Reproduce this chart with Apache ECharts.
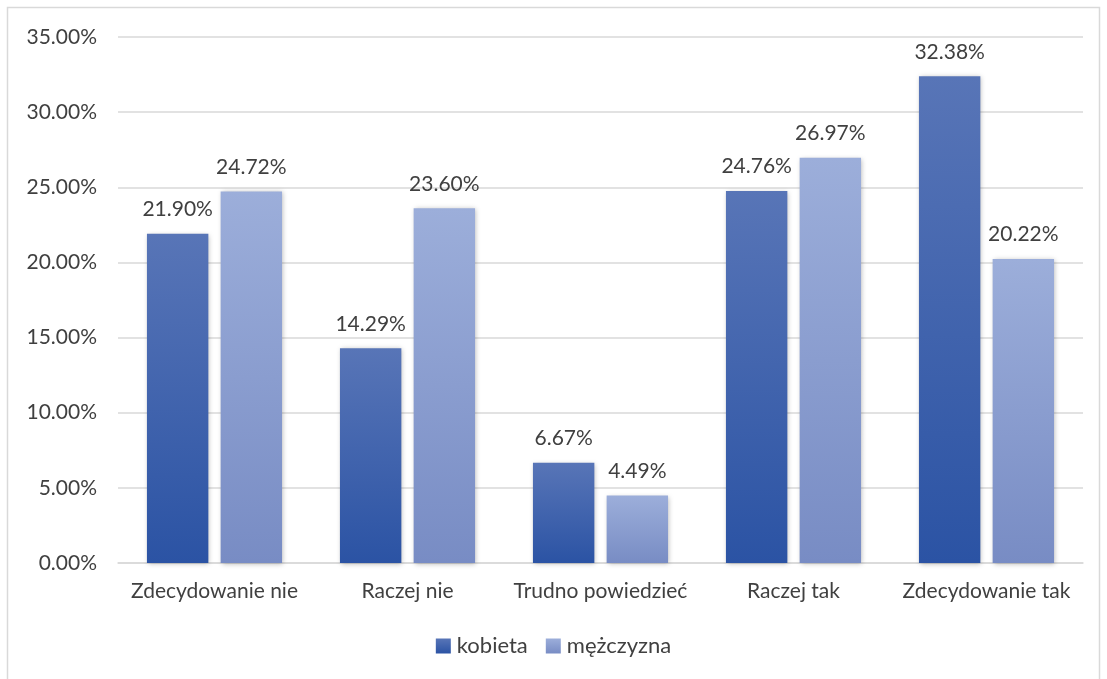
<!DOCTYPE html>
<html>
<head>
<meta charset="utf-8">
<script src="https://cdn.jsdelivr.net/npm/echarts@6/dist/echarts.min.js"></script>
<style>
  html, body { margin: 0; padding: 0; background: #fff; }
  #chart { width: 1107px; height: 679px; }
</style>
</head>
<body>
<div id="chart"></div>
<script>
// Survey answers by gender (share of respondents, %)
const categories = ['Zdecydowanie nie', 'Raczej nie', 'Trudno powiedzieć', 'Raczej tak', 'Zdecydowanie tak'];
const kobieta = [21.90, 14.29, 6.67, 24.76, 32.38];
const mezczyzna = [24.72, 23.60, 4.49, 26.97, 20.22];
const seriesNames = ['kobieta', 'mężczyzna'];

const FONT = 'Lato, "Open Sans", sans-serif';
const TEXT = '#404040';
const FS = 21;

const grad = (top, bottom) => new echarts.graphic.LinearGradient(0, 0, 0, 1, [
  { offset: 0, color: top },
  { offset: 1, color: bottom }
]);

const barShadow = {
  shadowBlur: 5,
  shadowColor: 'rgba(0,0,0,0.28)',
  shadowOffsetX: 1,
  shadowOffsetY: 1
};

const labelStyle = {
  show: true,
  position: 'top',
  distance: 14,
  color: TEXT,
  fontFamily: FONT,
  fontSize: FS,
  formatter: p => p.value.toFixed(2) + '%'
};

const chart = echarts.init(document.getElementById('chart'), null, { renderer: 'canvas' });
chart.setOption({
  animation: false,
  backgroundColor: '#fff',
  graphic: [{
    type: 'rect',
    shape: { x: 7.5, y: 7.5, width: 1092, height: 690 },
    style: { fill: 'none', stroke: '#d9d9d9', lineWidth: 1.5 },
    silent: true
  }],
  grid: { left: 118, right: 24, top: 37, bottom: 116, containLabel: false },
  legend: {
    data: seriesNames,
    bottom: 17,
    left: 'center',
    itemWidth: 15,
    itemHeight: 15,
    itemGap: 18,
    icon: 'rect',
    textStyle: { color: TEXT, fontFamily: FONT, fontSize: 22, padding: [0, 0, 0, 1] }
  },
  xAxis: {
    type: 'category',
    data: categories,
    axisLine: { lineStyle: { color: '#d9d9d9', width: 1.5 } },
    axisTick: { show: false },
    axisLabel: { interval: 0, color: TEXT, fontFamily: FONT, fontSize: FS, margin: 18 }
  },
  yAxis: {
    type: 'value',
    min: 0,
    max: 35,
    interval: 5,
    axisLine: { show: false },
    axisTick: { show: false },
    splitLine: { lineStyle: { color: '#d9d9d9', width: 1.5 } },
    axisLabel: {
      color: TEXT, fontFamily: FONT, fontSize: FS, margin: 21,
      formatter: v => v.toFixed(2) + '%'
    }
  },
  series: [
    {
      name: seriesNames[0],
      type: 'bar',
      data: kobieta,
      barGap: '20%',
      barCategoryGap: '30%',
      itemStyle: Object.assign({ color: grad('#5875b7', '#2b53a4') }, barShadow),
      label: labelStyle
    },
    {
      name: seriesNames[1],
      type: 'bar',
      data: mezczyzna,
      itemStyle: Object.assign({ color: grad('#9caeda', '#788cc4') }, barShadow),
      label: labelStyle
    }
  ]
});
</script>
</body>
</html>
